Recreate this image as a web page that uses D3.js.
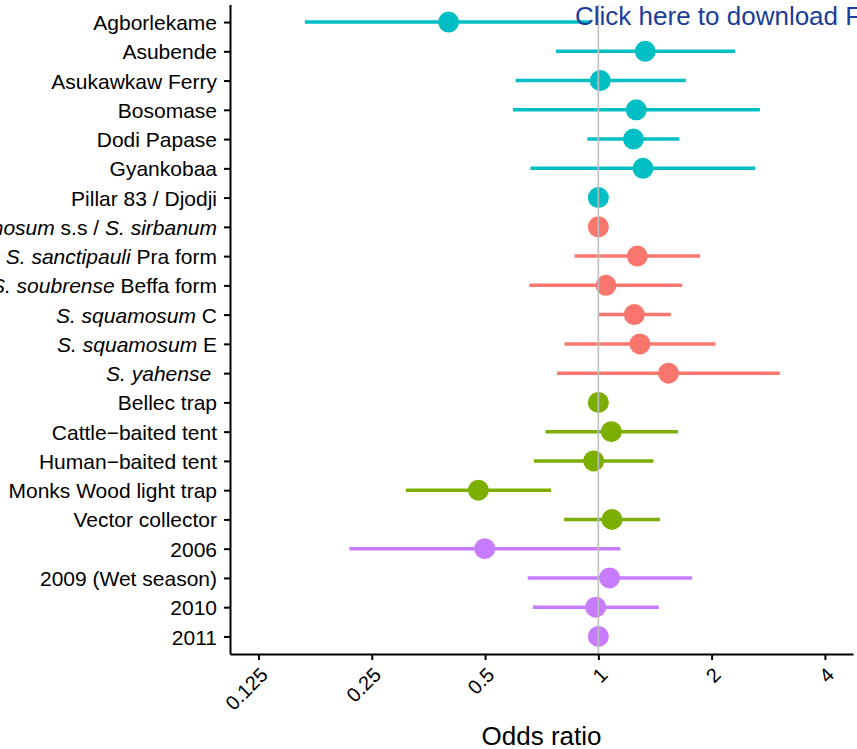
<!DOCTYPE html>
<html>
<head>
<meta charset="utf-8">
<script src="https://cdn.jsdelivr.net/npm/d3@7"></script>
<style>
    body { margin: 0; background: #fff; }
    svg { display: block; font-family: "Liberation Sans", Arial, Helvetica, sans-serif; }
</style>
</head>
<body>
<div id="chart"></div>
<script>
// row labels, *text* is italic
const categories = [
    "Agborlekame", "Asubende", "Asukawkaw Ferry", "Bosomase", "Dodi Papase", "Gyankobaa", "Pillar 83 / Djodji",
    "*S. damnosum* s.s / *S. sirbanum*", "*S. sanctipauli* Pra form", "*S. soubrense* Beffa form",
    "*S. squamosum* C", "*S. squamosum* E", "*S. yahense* ",
    "Bellec trap", "Cattle\u2212baited tent", "Human\u2212baited tent", "Monks Wood light trap", "Vector collector",
    "2006", "2009 (Wet season)", "2010", "2011"
];
const groups = [
    "Site", "Site", "Site", "Site", "Site", "Site", "Site",
    "Cytospecies", "Cytospecies", "Cytospecies", "Cytospecies", "Cytospecies", "Cytospecies",
    "Method", "Method", "Method", "Method", "Method",
    "Year", "Year", "Year", "Year"
];
const oddsRatio = [0.400, 1.332, 1.012, 1.261, 1.240, 1.314, 1, 1, 1.269, 1.048, 1.246, 1.290, 1.536, 1, 1.083, 0.972, 0.480, 1.087, 0.499, 1.071, 0.984, 1];
const lowerCI = [0.166, 0.771, 0.603, 0.593, 0.935, 0.660, null, null, 0.865, 0.656, 1.00, 0.813, 0.777, null, 0.724, 0.674, 0.308, 0.811, 0.218, 0.649, 0.670, null];
const upperCI = [0.952, 2.307, 1.708, 2.687, 1.642, 2.611, null, null, 1.863, 1.670, 1.558, 2.046, 3.036, null, 1.626, 1.401, 0.749, 1.457, 1.144, 1.775, 1.448, null];
const xTicks = [0.125, 0.25, 0.5, 1, 2, 4];
const groupNames = ["Cytospecies", "Method", "Site", "Year"];
const groupColors = ["#F8766D", "#7CAE00", "#00BFC4", "#C77CFF"];

const width = 857,
    height = 749,
    panel = {left: 230, right: 853, top: 4.5, bottom: 654};

const data = categories.map((c, i) => ({
    label: c,
    group: groups[i],
    or: oddsRatio[i],
    lo: lowerCI[i],
    hi: upperCI[i]
}));

const svg = d3.select("#chart").append("svg")
    .attr("width", width)
    .attr("height", height);

svg.append("rect")
    .attr("width", width)
    .attr("height", height)
    .attr("fill", "#fff");

// log2 scale for the odds ratio
const x = d3.scaleLog().base(2)
    .domain([0.105, 4.75])
    .range([panel.left, panel.right]);

const y = d3.scalePoint()
    .domain(categories)
    .range([panel.top, panel.bottom])
    .padding(0.6);

const color = d3.scaleOrdinal()
    .domain(groupNames)
    .range(groupColors);

// confidence intervals
svg.append("g")
    .selectAll("line")
    .data(data.filter(d => d.lo !== null))
    .enter().append("line")
    .attr("x1", d => x(d.lo))
    .attr("x2", d => x(d.hi))
    .attr("y1", d => y(d.label))
    .attr("y2", d => y(d.label))
    .attr("stroke", d => color(d.group))
    .attr("stroke-width", 3.5);

// points
svg.append("g")
    .selectAll("circle")
    .data(data)
    .enter().append("circle")
    .attr("cx", d => x(d.or))
    .attr("cy", d => y(d.label))
    .attr("r", 10.5)
    .attr("fill", d => color(d.group));

// reference line at 1
svg.append("line")
    .attr("x1", x(1))
    .attr("x2", x(1))
    .attr("y1", panel.top)
    .attr("y2", panel.bottom)
    .attr("stroke", "#bebebe")
    .attr("stroke-width", 1.6);

// x axis
const xAxis = svg.append("g")
    .attr("transform", "translate(0," + panel.bottom + ")")
    .call(d3.axisBottom(x)
        .tickValues(xTicks)
        .tickFormat(d3.format(""))
        .tickSize(6)
        .tickSizeOuter(0));

xAxis.selectAll(".tick text")
    .attr("x", 0)
    .attr("y", 0)
    .attr("dy", "0.71em")
    .attr("text-anchor", "end")
    .attr("transform", "translate(0,12) rotate(-45)")
    .attr("font-size", 20)
    .attr("fill", "#000");

// y axis
const yAxis = svg.append("g")
    .attr("transform", "translate(" + panel.left + ",0)")
    .call(d3.axisLeft(y)
        .tickSize(6)
        .tickPadding(7)
        .tickSizeOuter(0));

yAxis.selectAll(".tick text")
    .attr("font-size", 21)
    .attr("fill", "#000")
    .attr("dy", "0.36em")
    .style("white-space", "pre")
    .text(null)
    .each(function (d) {
        const t = d3.select(this);
        d.split("*").forEach((part, i) => {
            if (part === "") return;
            t.append("tspan")
                .style("font-style", i % 2 === 1 ? "italic" : "normal")
                .text(part);
        });
    });

[xAxis, yAxis].forEach(a => {
    a.select(".domain").attr("stroke", "#000").attr("stroke-width", 2);
    a.selectAll(".tick line").attr("stroke", "#000").attr("stroke-width", 2);
});

// axis title
svg.append("text")
    .attr("x", (panel.left + panel.right) / 2)
    .attr("y", 745)
    .attr("text-anchor", "middle")
    .attr("font-size", 26)
    .attr("fill", "#000")
    .text("Odds ratio");

// download link text on top of the figure
svg.append("text")
    .attr("x", 575)
    .attr("y", 25)
    .attr("font-size", 26)
    .attr("fill", "#1a3d99")
    .text("Click here to download Figure");
</script>
</body>
</html>
